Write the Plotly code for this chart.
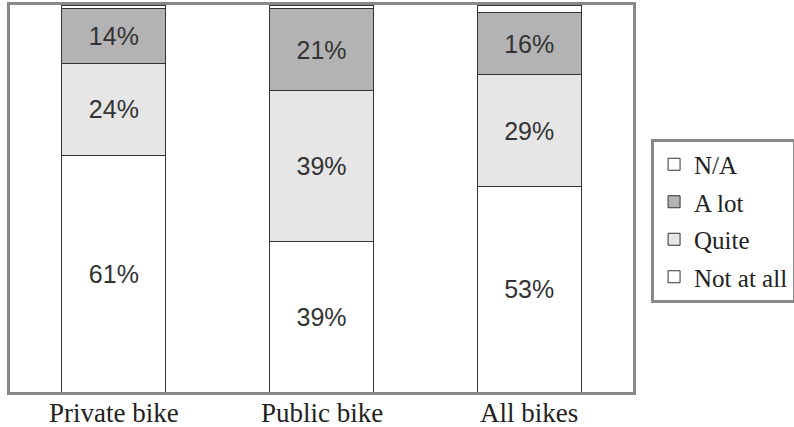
import plotly.graph_objects as go

categories = ["Private bike", "Public bike", "All bikes"]
not_at_all = [61, 39, 53]
quite = [24, 39, 29]
a_lot = [14, 21, 16]
na = [1, 1, 2]

series = [
    ("Not at all", not_at_all, "#ffffff", True, 4),
    ("Quite", quite, "#e6e6e6", True, 3),
    ("A lot", a_lot, "#b3b3b3", True, 2),
    ("N/A", na, "#ffffff", False, 1),
]

fig = go.Figure()
for name, vals, color, show_text, rank in series:
    fig.add_trace(go.Bar(
        x=categories, y=vals, name=name, legendgroup=name, legendrank=rank,
        marker=dict(color=color, line=dict(color="#333333", width=1)),
        text=[f"{v}%" for v in vals] if show_text else None,
        textposition="inside" if show_text else "none",
        insidetextanchor="middle",
        textangle=0,
        textfont=dict(family="Liberation Sans, Arial, sans-serif", size=25, color="#333333"),
        hoverinfo="skip",
    ))

for cat in categories:
    fig.add_annotation(
        x=cat, xref="x", y=0, yref="paper", yanchor="middle", yshift=-21,
        text=cat, showarrow=False,
        font=dict(family="Liberation Serif, Times New Roman, serif", size=27, color="#222222"),
    )

fig.update_layout(
    barmode="stack",
    bargap=0.5,
    width=794, height=427,
    margin=dict(l=10, r=161, t=5, b=35, autoexpand=False),
    plot_bgcolor="white", paper_bgcolor="white",
    uniformtext=dict(minsize=25, mode="show"),
    legend=dict(
        traceorder="grouped",
        x=1.029, xanchor="left", y=0.655, yanchor="top",
        bordercolor="#888888", borderwidth=3,
        font=dict(family="Liberation Serif, Times New Roman, serif", size=25, color="#222222"),
        tracegroupgap=2,
        itemwidth=30,
    ),
    showlegend=True,
)
fig.update_xaxes(
    showline=True, mirror=True, linecolor="#888888", linewidth=3,
    showgrid=False, ticks="", showticklabels=False, automargin=False,
)
fig.update_yaxes(
    range=[0, 100], showline=True, mirror=True, linecolor="#888888", linewidth=3,
    showgrid=False, showticklabels=False, ticks="", zeroline=False, automargin=False,
)

fig.write_html("out.html")
